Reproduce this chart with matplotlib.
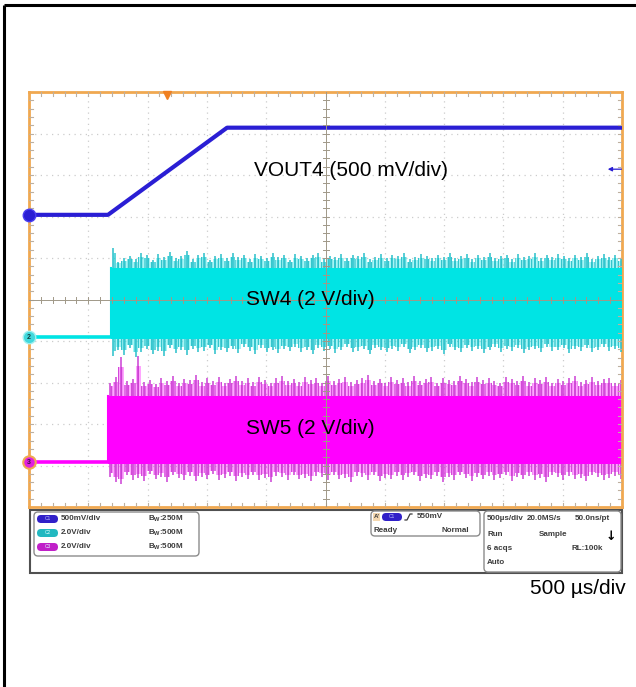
import numpy as np
import matplotlib
matplotlib.use("Agg")
import matplotlib.pyplot as plt
from matplotlib.patches import FancyBboxPatch, Rectangle

plt.rcParams['font.family'] = ['Liberation Sans', 'DejaVu Sans']
plt.rcParams['hatch.linewidth'] = 0.8

# ---------------- data ----------------
time_per_div_us = 500
n_hdiv = 10
n_vdiv = 10
trigger_time_us = 1164
trigger_level_v = 0.55

# Channel 1: VOUT4
vout4_scale = 0.5          # V/div
vout4_pos = 2.04           # div
vout4_t = [0, 666, 1670, 5000]
vout4_v = [0.0, 0.0, 1.05, 1.05]

# Channel 2: SW4
sw4_scale = 2.0
sw4_pos = -0.91
sw4_start = 691
sw4_high = 3.35
sw4_top = [0.95, 0.30, 0.45, 0.55, 0.40, 0.70, 0.60, 0.35, 0.65, 0.50,
           0.75, 0.45, 0.55, 0.80, 0.40, 0.60, 0.70, 0.35, 0.55, 0.65,
           0.45, 0.70, 0.50, 0.60, 0.40, 0.65, 0.55, 0.45, 0.70, 0.50,
           0.60, 0.35, 0.65, 0.55, 0.45, 0.60, 0.70, 0.40, 0.55, 0.50,
           0.65, 0.45, 0.60, 0.55, 0.70, 0.40, 0.50, 0.65, 0.45, 0.60,
           0.55, 0.70, 0.40, 0.50, 0.65, 0.55, 0.45, 0.60, 0.50, 0.70,
           0.45, 0.55, 0.65, 0.40, 0.60, 0.50, 0.70, 0.45, 0.55, 0.60,
           0.40, 0.65, 0.50, 0.55, 0.70, 0.45, 0.60, 0.50, 0.65, 0.55,
           0.45, 0.60, 0.50, 0.70, 0.40, 0.55, 0.65, 0.50, 0.60, 0.45]
sw4_bot = [0.90, 0.60, 0.85, 0.50, 0.95, 0.70, 0.55, 0.80, 0.65, 0.90,
           0.50, 0.75, 0.60, 0.85, 0.55, 0.70, 0.65, 0.50, 0.80, 0.60,
           0.70, 0.55, 0.75, 0.45, 0.65, 0.80, 0.50, 0.70, 0.60, 0.75,
           0.55, 0.65, 0.45, 0.70, 0.60, 0.80, 0.50, 0.65, 0.55, 0.75,
           0.60, 0.45, 0.70, 0.65, 0.55, 0.80, 0.50, 0.60, 0.70, 0.55,
           0.65, 0.45, 0.75, 0.60, 0.50, 0.70, 0.65, 0.55, 0.80, 0.45,
           0.60, 0.70, 0.50, 0.65, 0.55, 0.75, 0.60, 0.45, 0.70, 0.55,
           0.65, 0.50, 0.75, 0.60, 0.55, 0.70, 0.45, 0.65, 0.60, 0.50,
           0.75, 0.55, 0.65, 0.50, 0.70, 0.60, 0.45, 0.65, 0.55, 0.70]

# Channel 3: SW5
sw5_scale = 2.0
sw5_pos = -3.92
sw5_start = 666
sw5_high = 3.20
sw5_top = [0.60, 0.90, 1.85, 0.70, 0.80, 1.90, 0.65, 0.75, 0.55, 0.85,
           0.70, 0.95, 0.60, 0.80, 0.75, 1.00, 0.65, 0.85, 0.70, 0.90,
           0.60, 0.80, 0.95, 0.70, 0.85, 0.65, 0.90, 0.75, 0.60, 0.85,
           0.95, 0.70, 0.80, 0.65, 0.90, 0.75, 0.85, 0.60, 0.95, 0.70,
           0.80, 0.90, 0.65, 0.75, 0.85, 1.00, 0.70, 0.80, 0.60, 0.90,
           0.75, 0.85, 0.65, 0.95, 0.70, 0.80, 0.90, 0.60, 0.85, 0.75,
           0.70, 0.95, 0.80, 0.65, 0.90, 0.75, 0.85, 0.70, 0.60, 0.90,
           0.80, 0.70, 0.95, 0.65, 0.85, 0.75, 0.90, 0.60, 0.80, 0.70,
           0.85, 0.95, 0.65, 0.75, 0.90, 0.70, 0.80, 0.85, 0.60, 0.75]
sw5_bot = [0.70, 0.95, 1.05, 0.60, 0.85, 0.75, 0.90, 0.55, 0.80, 0.70,
           0.95, 0.60, 0.75, 0.85, 0.65, 0.90, 0.70, 0.80, 0.55, 0.85,
           0.75, 0.65, 0.90, 0.70, 0.80, 0.60, 0.85, 0.75, 0.95, 0.65,
           0.70, 0.85, 0.60, 0.80, 0.75, 0.90, 0.65, 0.70, 0.85, 0.60,
           0.80, 0.75, 0.95, 0.65, 0.70, 0.85, 0.60, 0.90, 0.75, 0.80,
           0.65, 0.85, 0.70, 0.60, 0.90, 0.75, 0.80, 0.65, 0.95, 0.70,
           0.85, 0.60, 0.75, 0.90, 0.70, 0.80, 0.65, 0.85, 0.75, 0.60,
           0.90, 0.70, 0.80, 0.65, 0.85, 0.75, 0.95, 0.60, 0.70, 0.85,
           0.65, 0.80, 0.75, 0.90, 0.60, 0.70, 0.85, 0.75, 0.65, 0.80]

trace_labels = ["VOUT4 (500 mV/div)", "SW4 (2 V/div)", "SW5 (2 V/div)"]
timebase_label = "500 µs/div"

ch_settings = ["500mV/div", "2.0V/div", "2.0V/div"]
ch_bw = ["250M", "500M", "500M"]
ch_names = ["C1", "C2", "C3"]

# ---------------- styling ----------------
W, H, DPI = 636, 687, 100
BLUE = '#2a1ed4'
CYAN = '#00e4e4'
CYAN_D = '#28c0ca'
MAG = '#ff00ff'
MAG_D = '#cc40d4'
ORANGE = '#f0a850'
TXT = '#3c3c3c'

fig = plt.figure(figsize=(W / DPI, H / DPI), dpi=DPI)
fig.patch.set_facecolor('white')

ov = fig.add_axes([0, 0, 1, 1])
ov.set_xlim(0, W)
ov.set_ylim(H, 0)
ov.axis('off')

ov.plot([4, 4], [5, H], color='black', lw=2.2, solid_capstyle='butt')
ov.plot([4, W], [5, 5], color='black', lw=2.2, solid_capstyle='butt')

L, R, T, B = 29, 622, 92, 507
ax = fig.add_axes([L / W, 1 - B / H, (R - L) / W, (B - T) / H])
tmax = time_per_div_us * n_hdiv
ax.set_xlim(0, tmax)
ax.set_ylim(-n_vdiv / 2, n_vdiv / 2)
ax.set_xticks([])
ax.set_yticks([])
for s in ax.spines.values():
    s.set_color(ORANGE)
    s.set_linewidth(2)
ax.set_facecolor('white')

px_x = tmax / (R - L)
px_y = n_vdiv / (B - T)

for k in range(1, n_hdiv):
    if k == n_hdiv // 2:
        continue
    ax.axvline(k * time_per_div_us, color='#cccccc', lw=0.9, ls=(0, (1, 3.5)), zorder=1)
for k in range(1, n_vdiv):
    y = -n_vdiv / 2 + k
    if abs(y) < 1e-9:
        continue
    ax.axhline(y, color='#cccccc', lw=0.9, ls=(0, (1, 3.5)), zorder=1)

tick_c = '#bdb0a0'
cross_c = '#a09888'
for i in range(1, n_hdiv * 5):
    x = i * time_per_div_us / 5
    ax.plot([x, x], [n_vdiv / 2, n_vdiv / 2 - 4 * px_y], color=tick_c, lw=0.8, zorder=6)
    ax.plot([x, x], [-n_vdiv / 2, -n_vdiv / 2 + 4 * px_y], color=tick_c, lw=0.8, zorder=6)
    ax.plot([x, x], [-3 * px_y, 3 * px_y], color=cross_c, lw=0.7, zorder=6)
for i in range(1, n_vdiv * 5):
    y = -n_vdiv / 2 + i / 5
    ax.plot([0, 4 * px_x], [y, y], color=tick_c, lw=0.8, zorder=6)
    ax.plot([tmax, tmax - 4 * px_x], [y, y], color=tick_c, lw=0.8, zorder=6)
    ax.plot([tmax / 2 - 3 * px_x, tmax / 2 + 3 * px_x], [y, y], color=cross_c, lw=0.7, zorder=6)
ax.axhline(0, color=cross_c, lw=0.7, zorder=6)
ax.axvline(tmax / 2, color=cross_c, lw=0.7, zorder=6)


def draw_switch(start, high, top, bot, scale, pos, col, col_d, z):
    hi = pos + high / scale
    lo = pos
    top = np.array(top) / scale
    bot = np.array(bot) / scale
    ax.plot([0, start], [lo, lo], color=col, lw=2.6, zorder=z, solid_capstyle='butt')
    tt = np.linspace(start + 15, tmax - 10, len(top))
    tb = np.linspace(start + 15, tmax - 10, len(bot))
    # hatched fringes (dense ringing)
    ax.fill_between(tt, hi, hi + 0.75 * top, step='mid', facecolor=col, alpha=0.35,
                    lw=0, zorder=z)
    ax.fill_between(tt, hi, hi + 0.75 * top, step='mid', facecolor='none', edgecolor=col_d,
                    hatch='|||||', lw=0, zorder=z)
    ax.fill_between(tb, lo - 0.75 * bot, lo, step='mid', facecolor=col, alpha=0.35,
                    lw=0, zorder=z)
    ax.fill_between(tb, lo - 0.75 * bot, lo, step='mid', facecolor='none', edgecolor=col_d,
                    hatch='|||||', lw=0, zorder=z)
    ax.vlines(tt, hi, hi + top, color=col_d, lw=1.1, zorder=z + 0.1)
    ax.vlines(tb, lo - bot, lo, color=col_d, lw=1.1, zorder=z + 0.1)
    # solid band
    ax.fill_between([start, tmax], lo - 0.04, hi, color=col, lw=0, zorder=z + 0.2)
    ax.plot([start, start], [lo, hi], color=col, lw=1.5, zorder=z + 0.2)


draw_switch(sw5_start, sw5_high, sw5_top, sw5_bot, sw5_scale, sw5_pos, MAG, MAG_D, 2)
draw_switch(sw4_start, sw4_high, sw4_top, sw4_bot, sw4_scale, sw4_pos, CYAN, CYAN_D, 3)

ax.plot(vout4_t, vout4_pos + np.array(vout4_v) / vout4_scale, color=BLUE, lw=3.0,
        zorder=5, solid_joinstyle='round')

ax.text(1900, vout4_pos + 1.05 / vout4_scale - 1.02, trace_labels[0], fontsize=15,
        ha='left', va='center', zorder=7)
ax.text(2375, sw4_pos + 0.92, trace_labels[1], fontsize=15, ha='center', va='center', zorder=7)
ax.text(2375, sw5_pos + 0.80, trace_labels[2], fontsize=15, ha='center', va='center', zorder=7)

ax.plot([trigger_time_us], [n_vdiv / 2 - 3 * px_y], marker='v', ms=6, color='#f08020',
        mec='#f08020', clip_on=False, zorder=8)
yl = vout4_pos + trigger_level_v / vout4_scale
ax.annotate('', xy=(tmax - 120, yl), xytext=(tmax - 5, yl),
            arrowprops=dict(arrowstyle='-|>', color=BLUE, lw=0.9, mutation_scale=6,
                            shrinkA=0, shrinkB=0), zorder=8)

ax.plot([0], [vout4_pos], 'o', ms=9, color=BLUE, mec='#4a3ef0', clip_on=False, zorder=9)
ax.plot([0], [sw4_pos], 'o', ms=9, color='#40d8dc', mec='#a0f0f0', mew=1, clip_on=False, zorder=9)
ax.text(0, sw4_pos, '2', fontsize=5, ha='center', va='center', color='#104040', zorder=10,
        fontweight='bold')
ax.plot([0], [sw5_pos], 'o', ms=9, color='#e020e0', mec='#f0a850', mew=1.5, clip_on=False, zorder=9)
ax.text(0, sw5_pos, '3', fontsize=5, ha='center', va='center', color='#401040', zorder=10,
        fontweight='bold')

# ---------------- info panel ----------------
ov.add_patch(Rectangle((30, 510), 592, 63, fc='white', ec='#505050', lw=1.5))
ov.add_patch(FancyBboxPatch((34, 512), 165, 44, boxstyle='round,pad=0,rounding_size=4',
                            fc='white', ec='#8c8c8c', lw=1))
ov.add_patch(FancyBboxPatch((371, 511), 109, 25, boxstyle='round,pad=0,rounding_size=4',
                            fc='white', ec='#8c8c8c', lw=1))
ov.add_patch(FancyBboxPatch((484, 511), 137, 61, boxstyle='round,pad=0,rounding_size=4',
                            fc='white', ec='#8c8c8c', lw=1))

pill_cols = ['#3020c8', '#22b8c0', '#c020c8']
rows_y = [519, 533, 547]
for name, pc, setting, bw, y in zip(ch_names, pill_cols, ch_settings, ch_bw, rows_y):
    ov.add_patch(FancyBboxPatch((37, y - 4), 21, 8, boxstyle='round,pad=0,rounding_size=4',
                                fc=pc, ec='none'))
    ov.text(47.5, y, name, fontsize=3.5, color='#c0c0ff' if name == 'C1' else '#e0ffff',
            ha='center', va='center')
    ov.text(61, y, setting, fontsize=5.8, fontweight='bold', color=TXT, va='center')
    ov.text(148, y, r'$\mathregular{B_W}$:' + bw, fontsize=5.8, fontweight='bold', color=TXT,
            va='center')

ov.add_patch(Rectangle((373, 513), 7, 8, fc='#f5d8b0', ec='none'))
ov.text(376.5, 517, "A'", fontsize=4.5, fontweight='bold', color=TXT, ha='center', va='center')
ov.add_patch(FancyBboxPatch((382, 513), 20, 8, boxstyle='round,pad=0,rounding_size=4',
                            fc='#3020c8', ec='none'))
ov.text(392, 517, 'C1', fontsize=3.5, color='#c0c0ff', ha='center', va='center')
ov.plot([405, 407, 410, 412], [520, 520, 514, 514], color=TXT, lw=0.9)
ov.text(417, 517, '550mV', fontsize=5.8, fontweight='bold', color=TXT, va='center')
ov.text(373, 531, 'Ready', fontsize=5.8, fontweight='bold', color=TXT, va='center')
ov.text(469, 531, 'Normal', fontsize=5.8, fontweight='bold', color=TXT, va='center', ha='right')

ov.text(487, 518, '500µs/div', fontsize=5.8, fontweight='bold', color=TXT, va='center')
ov.text(527, 518, '20.0MS/s', fontsize=5.8, fontweight='bold', color=TXT, va='center')
ov.text(575, 518, '50.0ns/pt', fontsize=5.8, fontweight='bold', color=TXT, va='center')
ov.text(487, 534, 'Run', fontsize=5.8, fontweight='bold', color=TXT, va='center')
ov.text(539, 534, 'Sample', fontsize=5.8, fontweight='bold', color=TXT, va='center')
ov.text(611, 537, '↓', fontsize=9, fontweight='bold', color='black', va='center', ha='center',
        family='DejaVu Sans')
ov.text(487, 548, '6 acqs', fontsize=5.8, fontweight='bold', color=TXT, va='center')
ov.text(572, 548, 'RL:100k', fontsize=5.8, fontweight='bold', color=TXT, va='center')
ov.text(487, 562, 'Auto', fontsize=5.8, fontweight='bold', color=TXT, va='center')

ov.text(626, 589, timebase_label, fontsize=15, ha='right', va='center', color='black')

fig.savefig('out.png', dpi=DPI)
